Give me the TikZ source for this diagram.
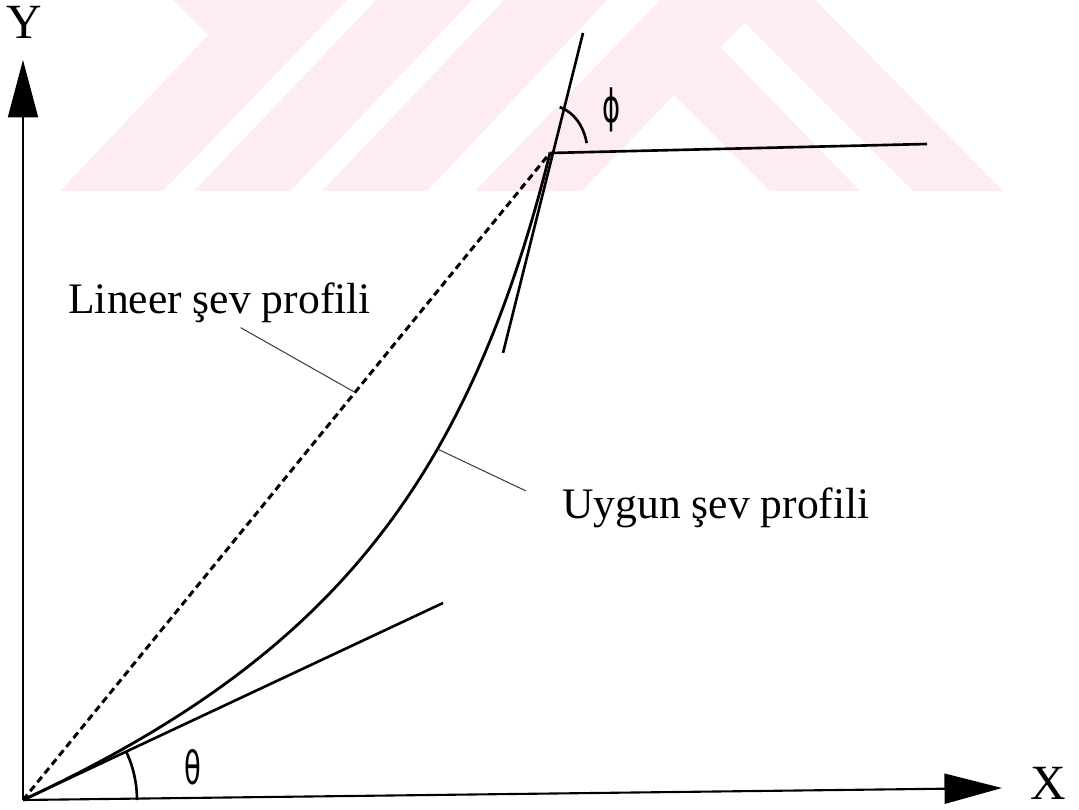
\documentclass[tikz,border=0pt]{standalone}
\usepackage{fontspec}
\setmainfont{Liberation Serif}
\newfontfamily\greekfont{DejaVu Sans}
\usetikzlibrary{arrows.meta, positioning}
\definecolor{wmpink}{RGB}{253,236,240}

\begin{document}
\begin{tikzpicture}[
  axis/.style={line width=1.2pt, -{Triangle[length=1.15cm, width=0.6cm]}},
  profile/.style={line width=1.6pt},
  linear/.style={line width=1.7pt, dash pattern=on 4pt off 2.5pt},
  tangent/.style={line width=1.5pt},
  leader/.style={line width=0.6pt, black!75},
  axlabel/.style={font=\fontsize{28}{32}\selectfont, inner sep=0pt},
  caption/.style={font=\fontsize{24.8}{30}\selectfont, inner sep=0pt, anchor=base west},
  anglabel/.style={font=\greekfont\fontsize{26}{30}\selectfont, inner sep=0pt, xscale=0.6}
]

\useasboundingbox (-0.46,-0.18) rectangle (21.12,16);

% ── Watermark ────────────────────────────────────────────────────────────────
\begin{scope}[shift={(-0.46cm,16cm)}, x=0.02cm, y=-0.02cm]
  \fill[wmpink] (173,0) -- (347,0) -- (163,191) -- (60,191) -- (208,35) -- cycle;
  \fill[wmpink] (376,0) -- (472,0) -- (290,191) -- (194,191) -- cycle;
  \fill[wmpink] (504,0) -- (607,0) -- (427,191) -- (322,191) -- cycle;
  \fill[wmpink] (660,0) -- (815,0) -- (1003,191) -- (913,191) -- (745,23)
    -- (720,47) -- (860,191) -- (770,191) -- (674,95) -- (582,191)
    -- (475,191) -- cycle;
\end{scope}

% ── Axes ─────────────────────────────────────────────────────────────────────
\coordinate (O) at (0,0);
\coordinate (ytip) at (0,14.8);
\coordinate (xtip) at (19.58,0.24);

\draw[axis] (O) -- (ytip);
\draw[axis] (O) -- (xtip);

\node[axlabel] (ylab) at (0.02,15.56) {Y};
\node[axlabel] (xlab) at (20.5,0.34) {X};

% ── Profiles ─────────────────────────────────────────────────────────────────
\coordinate (P) at (10.54,12.94);

\draw[linear] (O) -- (P) coordinate[pos=0.63] (lin);
\draw[profile] (O) .. controls (5.98,2.79) and (8.85,6.15) .. (P)
  coordinate[pos=0.655] (uyg);

% ── Tangents and angles ──────────────────────────────────────────────────────
\coordinate (ttan) at (8.4,3.94);
\coordinate (ftanlo) at (9.6,8.94);
\coordinate (ftanhi) at (11.2,15.34);
\coordinate (hzend) at (18.08,13.12);

\draw[tangent] (O) -- (ttan);
\draw[tangent] (ftanlo) -- (ftanhi);
\draw[tangent] (P) -- (hzend);

\draw[tangent] (O) ++(25.1:2.28) arc[start angle=25.1, end angle=0, radius=2.28];
\draw[tangent] (P) ++({0.75*cos(75)},{0.95*sin(75)})
  arc[start angle=75, end angle=12, x radius=0.75, y radius=0.95];

\node[anglabel] (theta) at (3.4,0.66) {θ};
\node[anglabel] (phi) at (11.78,13.8) {ϕ};

% ── Captions ─────────────────────────────────────────────────────────────────
\node[caption] (lintext) at (0.9,9.74) {Lineer şev profili};
\node[caption] (uygtext) at (10.78,5.64) {Uygun şev profili};

\draw[leader] ([xshift=0.42cm, yshift=-0.1cm]lintext.south) -- (lin);
\draw[leader] (uyg) -- ([xshift=-0.72cm, yshift=-0.08cm]uygtext.north west);

\end{tikzpicture}
\end{document}
